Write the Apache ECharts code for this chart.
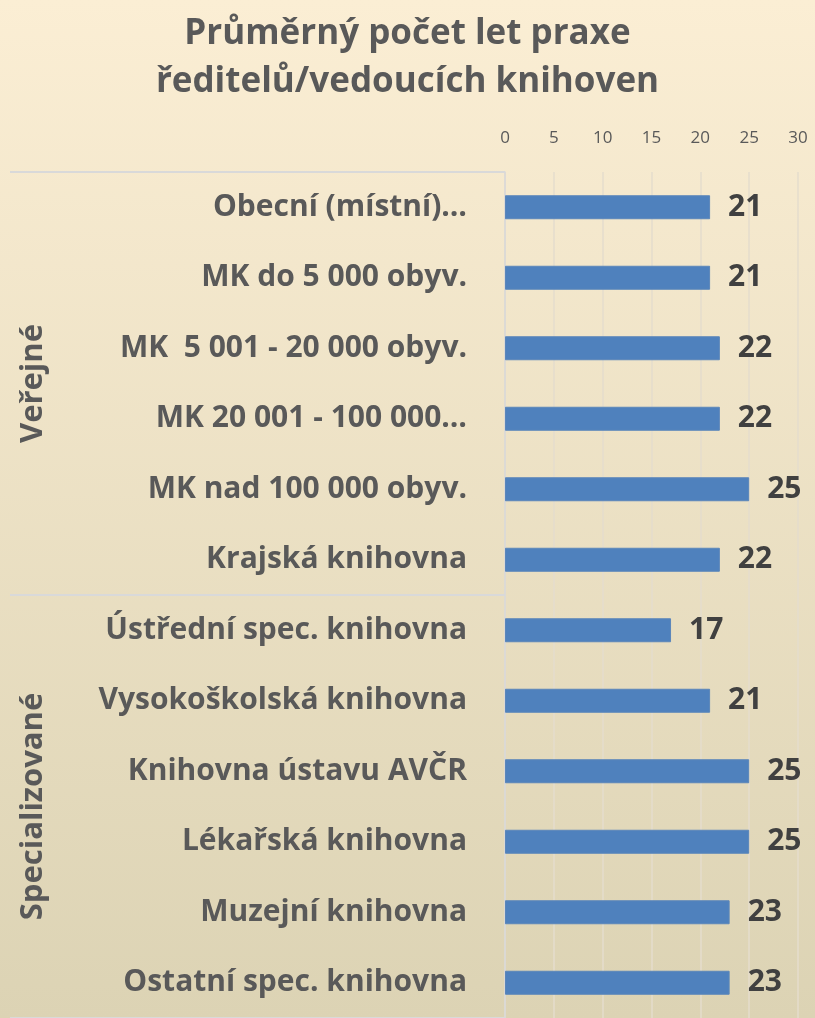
<!DOCTYPE html>
<html>
<head>
<meta charset="utf-8">
<script src="https://cdn.jsdelivr.net/npm/echarts@6/dist/echarts.min.js"></script>
<style>
  html, body { margin: 0; padding: 0; }
  #main { width: 815px; height: 1018px; }
</style>
</head>
<body>
<div id="main"></div>
<script>
// kategorie knihoven (shora dolů)
var categories = [
  'Obecní (místní)…',
  'MK do 5 000 obyv.',
  'MK  5 001 - 20 000 obyv.',
  'MK 20 001 - 100 000…',
  'MK nad 100 000 obyv.',
  'Krajská knihovna',
  'Ústřední spec. knihovna',
  'Vysokoškolská knihovna',
  'Knihovna ústavu AVČR',
  'Lékařská knihovna',
  'Muzejní knihovna',
  'Ostatní spec. knihovna'
];
var groups = ['Veřejné', 'Specializované'];
var years = [21, 21, 22, 22, 25, 22, 17, 21, 25, 25, 23, 23];

var font = '"Open Sans", sans-serif';

var myChart = echarts.init(document.getElementById('main'));
myChart.setOption({
  backgroundColor: {
    type: 'linear', x: 0, y: 0, x2: 0, y2: 1,
    colorStops: [
      { offset: 0, color: '#fbeed4' },
      { offset: 1, color: '#dcd3b4' }
    ]
  },
  textStyle: { fontFamily: font },
  title: {
    text: 'Průměrný počet let praxe\nředitelů/vedoucích knihoven',
    left: 'center',
    top: 5,
    textStyle: {
      fontFamily: font,
      fontSize: 35,
      fontWeight: 'bold',
      color: '#595959',
      lineHeight: 48
    }
  },
  grid: { left: 505, right: 17, top: 172, bottom: -6, containLabel: false },
  xAxis: {
    type: 'value',
    position: 'top',
    min: 0,
    max: 30,
    interval: 5,
    axisLine: { show: false },
    axisTick: { show: false },
    axisLabel: { color: '#595959', fontSize: 17, margin: 25, fontFamily: font },
    splitLine: { lineStyle: { color: '#e4ddcc', width: 1.5 } }
  },
  yAxis: [
    {
      type: 'category',
      data: categories,
      inverse: true,
      axisLine: { show: false },
      axisTick: { show: false },
      axisLabel: {
        color: '#595959',
        fontSize: 30,
        fontWeight: 'bold',
        margin: 38,
        fontFamily: font,
        padding: [4, 0, 0, 0]
      }
    },
    {
      type: 'category',
      data: groups,
      inverse: true,
      position: 'left',
      axisLine: { show: true, lineStyle: { color: '#d9d9d9', width: 1.5 } },
      axisTick: { show: true, length: 495, lineStyle: { color: '#d9d9d9', width: 2 } },
      axisLabel: {
        rotate: 90,
        margin: 456,
        color: '#595959',
        fontSize: 31,
        fontWeight: 'bold',
        fontFamily: font
      }
    }
  ],
  series: [
    {
      type: 'bar',
      data: years,
      yAxisIndex: 0,
      barWidth: 24,
      itemStyle: { color: '#4f81bd', borderColor: '#5b86ba', borderWidth: 1 },
      label: {
        show: true,
        position: 'right',
        distance: 18,
        color: '#404040',
        fontSize: 30,
        fontWeight: 'bold',
        fontFamily: font,
        padding: [6, 0, 0, 0]
      }
    }
  ]
});
</script>
</body>
</html>
